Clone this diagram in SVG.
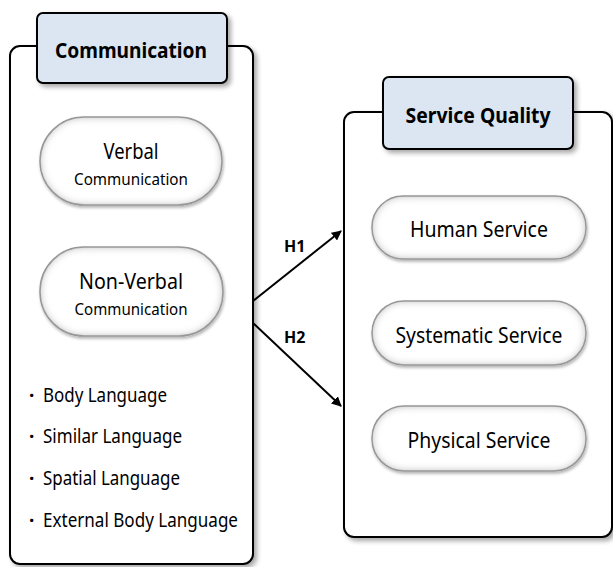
<svg xmlns="http://www.w3.org/2000/svg" width="613" height="567" viewBox="0 0 613 567">
  <style>
    .frame { fill: #ffffff; stroke: #000000; stroke-width: 2; }
    .title-box { fill: #dce6f2; stroke: #000000; stroke-width: 2; }
    .title { font-family: "Noto Sans", "Liberation Sans", sans-serif; font-weight: bold; font-size: 21px; fill: #000000; text-anchor: middle; }
    .pill { fill: #ffffff; stroke: #a6a6a6; stroke-width: 1.5; }
    .big { font-family: "Noto Sans", "Liberation Sans", sans-serif; font-size: 22px; fill: #000000; text-anchor: middle; }
    .small { font-family: "Noto Sans", "Liberation Sans", sans-serif; font-size: 17px; fill: #000000; text-anchor: middle; }
    .item { font-family: "Noto Sans", "Liberation Sans", sans-serif; font-size: 19px; fill: #000000; }
    .dot { font-family: "Noto Sans", "Liberation Sans", sans-serif; font-size: 19px; font-weight: bold; fill: #000000; }
    .hlabel { font-family: "Noto Sans", "Liberation Sans", sans-serif; font-weight: bold; font-size: 16px; fill: #000000; }
    .link { stroke: #000000; stroke-width: 2; fill: none; marker-end: url(#arrow); }
  </style>
  <defs>
    <filter id="shadow" x="-10%" y="-10%" width="130%" height="130%">
      <feGaussianBlur in="SourceAlpha" stdDeviation="2.5"/>
      <feOffset dx="3" dy="3" result="off"/>
      <feComponentTransfer><feFuncA type="linear" slope="0.35"/></feComponentTransfer>
      <feMerge><feMergeNode/><feMergeNode in="SourceGraphic"/></feMerge>
    </filter>
    <filter id="inset" x="-10%" y="-10%" width="130%" height="140%">
      <feGaussianBlur in="SourceAlpha" stdDeviation="4" result="blur"/>
      <feComposite in="SourceAlpha" in2="blur" operator="arithmetic" k2="1" k3="-1" result="edge"/>
      <feFlood flood-color="#7f7f7f" flood-opacity="0.9"/>
      <feComposite in2="edge" operator="in" result="shade"/>
      <feGaussianBlur in="SourceAlpha" stdDeviation="1.5"/>
      <feOffset dx="1" dy="2"/>
      <feComponentTransfer result="drop"><feFuncA type="linear" slope="0.3"/></feComponentTransfer>
      <feMerge><feMergeNode in="drop"/><feMergeNode in="SourceGraphic"/><feMergeNode in="shade"/></feMerge>
    </filter>
    <marker id="arrow" viewBox="0 0 10 10" refX="9" refY="5" markerWidth="5" markerHeight="5" orient="auto" markerUnits="strokeWidth">
      <path d="M0,0 L10,5 L0,10 z" fill="#000000"/>
    </marker>
  </defs>

  <!-- Communication group -->
  <g id="communication">
    <rect class="frame" x="10" y="46" width="243" height="518" rx="10" filter="url(#shadow)"/>
    <rect class="title-box" x="37" y="13" width="190" height="70" rx="6" filter="url(#shadow)"/>
    <text class="title" x="131" y="58" textLength="152" lengthAdjust="spacingAndGlyphs">Communication</text>
  </g>

  <g id="verbal">
    <rect class="pill" x="40" y="117" width="182" height="88" rx="44" filter="url(#inset)"/>
    <text class="big" x="131" y="159" textLength="55" lengthAdjust="spacingAndGlyphs">Verbal</text>
    <text class="small" x="131" y="185" textLength="114" lengthAdjust="spacingAndGlyphs">Communication</text>
  </g>

  <g id="non-verbal">
    <rect class="pill" x="40" y="247" width="183" height="89" rx="44" filter="url(#inset)"/>
    <text class="big" x="131" y="289" textLength="104" lengthAdjust="spacingAndGlyphs">Non-Verbal</text>
    <text class="small" x="131" y="315" textLength="113" lengthAdjust="spacingAndGlyphs">Communication</text>
  </g>

  <g id="non-verbal-items">
    <text class="dot" x="29" y="402">·</text>
    <text class="item" x="43" y="402" textLength="124" lengthAdjust="spacingAndGlyphs">Body Language</text>
    <text class="dot" x="29" y="443">·</text>
    <text class="item" x="43" y="443" textLength="139" lengthAdjust="spacingAndGlyphs">Similar  Language</text>
    <text class="dot" x="29" y="485">·</text>
    <text class="item" x="43" y="485" textLength="137" lengthAdjust="spacingAndGlyphs">Spatial  Language</text>
    <text class="dot" x="29" y="527">·</text>
    <text class="item" x="43" y="527" textLength="195" lengthAdjust="spacingAndGlyphs">External  Body Language</text>
  </g>

  <!-- Service Quality group -->
  <g id="service-quality">
    <rect class="frame" x="344" y="112" width="268" height="425" rx="10" filter="url(#shadow)"/>
    <rect class="title-box" x="383" y="77" width="190" height="72" rx="6" filter="url(#shadow)"/>
    <text class="title" x="478" y="123" textLength="145" lengthAdjust="spacingAndGlyphs">Service Quality</text>
  </g>

  <g id="human-service">
    <rect class="pill" x="372" y="196" width="214" height="63" rx="31" filter="url(#inset)"/>
    <text class="big" x="479" y="237" textLength="138" lengthAdjust="spacingAndGlyphs">Human Service</text>
  </g>

  <g id="systematic-service">
    <rect class="pill" x="372" y="301" width="214" height="64" rx="32" filter="url(#inset)"/>
    <text class="big" x="479" y="343" textLength="167" lengthAdjust="spacingAndGlyphs">Systematic Service</text>
  </g>

  <g id="physical-service">
    <rect class="pill" x="372" y="406" width="214" height="65" rx="32" filter="url(#inset)"/>
    <text class="big" x="479" y="448" textLength="143" lengthAdjust="spacingAndGlyphs">Physical Service</text>
  </g>

  <!-- Hypothesis connectors -->
  <g id="connectors">
    <line class="link" x1="253" y1="301" x2="341" y2="231"/>
    <line class="link" x1="253" y1="323" x2="341" y2="406"/>
    <text class="hlabel" x="284" y="252">H1</text>
    <text class="hlabel" x="284" y="343">H2</text>
  </g>
</svg>
